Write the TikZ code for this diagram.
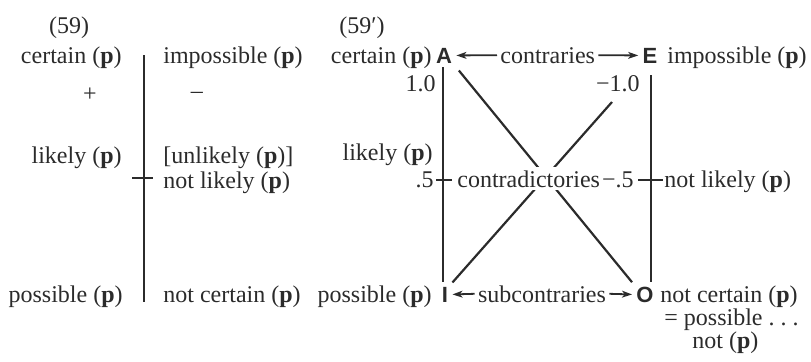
\documentclass[tikz,border=0pt]{standalone}
\usepackage{fontspec}
\setmainfont{Liberation Serif}
\newfontfamily\sansb{Liberation Sans}
\usetikzlibrary{arrows.meta}
\definecolor{ink}{HTML}{2B2B2B}
\newcommand\Pb{(\textbf{p})}
\begin{document}
\begin{tikzpicture}[x=0.5pt,y=-0.5pt,
  every node/.style={inner sep=0pt, text=ink, font=\fontsize{12}{14}\selectfont},
  lbl/.style={anchor=base west},
  lbr/.style={anchor=base east},
  lbc/.style={anchor=base},
  letter/.style={anchor=base, font=\sansb\bfseries\fontsize{11}{13}\selectfont, inner sep=2pt},
  rule/.style={draw=ink, line width=1pt},
  diag/.style={draw=ink, line width=1.1pt},
  arr/.style={draw=ink, line width=0.9pt, -{Stealth[length=5pt,width=3.4pt,inset=1.3pt]}}]
\useasboundingbox (0,0) rectangle (811,361);

% ---------- (59) ----------
\node[lbc] (t59) at (69,33) {(59)};
\node[lbr] (c1) at (122,63) {certain \Pb};
\node[lbl] (i1) at (163,63) {impossible \Pb};
\node (plus) at (90,95) {+};
\node (minus) at (197,95) {–};
\node[lbr] (l1) at (122,163) {likely \Pb};
\node[lbl] (u1) at (163,163) {[unlikely \Pb]};
\node[lbl] (nl1) at (163,188) {not likely \Pb};
\node[lbr] (p1) at (123,302) {possible \Pb};
\node[lbl] (nc1) at (163,302) {not certain \Pb};
\coordinate (v1t) at (144,55);
\coordinate (v1b) at (144,302);
\coordinate (k1) at (144,178);
\draw[rule] (v1t) -- (v1b);
\draw[rule] ([xshift=-6pt]k1) -- ([xshift=4.5pt]k1);

% ---------- (59') ----------
\node[lbc] (t59p) at (362,33) {(59′)};
\node[lbr] (c2) at (432,63) {certain \Pb};
\node[letter] (A) at (444,63) {A};
\node[lbl] (contr) at (500,63) {contraries};
\node[letter] (E) at (650,63) {E};
\node[lbl] (i2) at (667,63) {impossible \Pb};
\node[lbr] (one) at (436,91) {1.0};
\node[lbr] (mone) at (640,91) {−1.0};
\node[lbr] (l2) at (433,160) {likely \Pb};
\node[lbr] (h1) at (434,187) {.5};
\node[lbl] (nl2) at (664,187) {not likely \Pb};
\node[lbr] (p2) at (432,302) {possible \Pb};
\node[letter] (I) at (445,302) {I};
\node[lbc] (sub) at (542,302) {subcontraries};
\node[letter] (O) at (645,302) {O};
\node[lbl] (nc2) at (660,302) {not certain \Pb};
\node[lbl] (eq) at (664,325) {= possible .\ .\ .};
\node[lbl] (np) at (692,348) {not \Pb};

\coordinate (xl) at (443,0);
\coordinate (xr) at (651,0);
\coordinate (d2s) at (612,102);
\draw[rule] (A.south -| xl) -- (I.north -| xl);
\draw[rule] ([yshift=-4pt]E.south -| xr) -- (O.north -| xr);
\coordinate (k2) at (443,180);
\coordinate (k3) at (651,180);
\draw[rule] ([xshift=-3.5pt]k2) -- ([xshift=4.5pt]k2);
\draw[rule] ([xshift=-6.5pt]k3) -- ([xshift=6pt]k3);

\draw[diag, shorten <=2pt] (A.south east) -- (O.north west);
\draw[diag] (d2s) -- (I.north east);

\draw[arr] ([xshift=-1.5pt]contr.west) -- (A.east);
\draw[arr] ([xshift=1.5pt]contr.east) -- (E.west);
\draw[arr] ([xshift=-1.5pt]sub.west) -- (I.east);
\draw[arr] ([xshift=1.5pt]sub.east) -- (O.west);

\node[lbl, fill=white, inner xsep=0.5pt, inner ysep=1.5pt] (contra) at (456,187) {contradictories};
\node[lbr] (mh) at (634,187) {−.5};
\end{tikzpicture}
\end{document}
